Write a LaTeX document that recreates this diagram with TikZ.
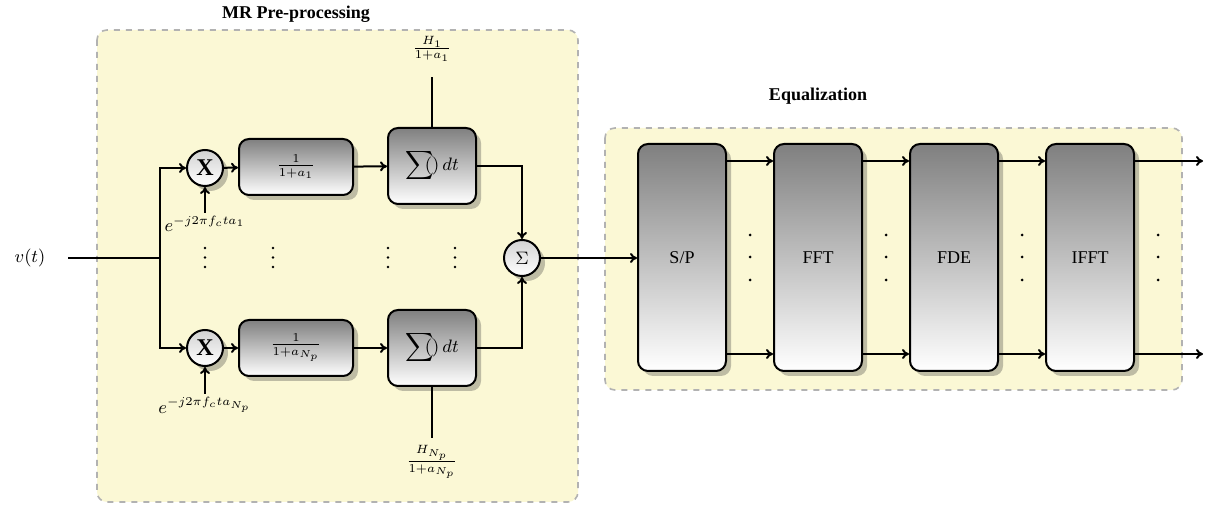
\documentclass[tikz,border=0pt]{standalone}
\usepackage{fontspec}
\setmainfont{Liberation Serif}
\usetikzlibrary{shadows,arrows.meta,calc}
\definecolor{bgy}{HTML}{FBF8D5}
\begin{document}
\begin{tikzpicture}[x=0.5pt,y=-0.5pt,font=\small,line width=1pt,
  grp/.style={draw=gray!60,dashed,line width=0.8pt,fill=bgy,rounded corners=5pt},
  shd/.style={drop shadow={opacity=0.3,fill=black!80,shadow xshift=2.5pt,shadow yshift=-2.5pt}},
  blk/.style={shd,draw=black,line width=1pt,rounded corners=5pt,top color=black!50,bottom color=white,inner sep=2pt},
  gainbox/.style={blk,minimum width=57pt,minimum height=28pt},
  intbox/.style={blk,minimum width=44pt,minimum height=38pt},
  eqbox/.style={blk,minimum width=44pt,minimum height=113.5pt},
  mult/.style={shd,circle,draw=black,line width=1pt,top color=gray!35,bottom color=white,minimum size=18pt,inner sep=0pt},
  ttl/.style={font=\small\bfseries},
  dot/.style={fill=black},
  >={To[length=3.5pt,width=5pt]}]
\useasboundingbox (0,0) rectangle (1205,507);
% groups
\draw[grp] (97,30) rectangle (578,502);
\draw[grp] (605,128) rectangle (1182,390);
\node[ttl] (t1) at (296,14) {MR Pre-processing};
\node[ttl] (t2) at (818,96) {Equalization};
% input
\node (vt) at (30,258) {$v(t)$};
\coordinate (vin) at (68,258);
\coordinate (split) at (160,258);
% branch nodes
\node[mult] (m1) at (205,168) {\large\textbf{X}};
\node[mult] (m2) at (205,348) {\large\textbf{X}};
\node[gainbox] (g1) at (296,167) {$\frac{1}{1+a_1}$};
\node[gainbox] (g2) at (296,348) {$\frac{1}{1+a_{N_p}}$};
\node[intbox] (i1) at (432,166) {$\displaystyle\sum\!\!\!()\,dt$};
\node[intbox] (i2) at (432,348) {$\displaystyle\sum\!\!\!()\,dt$};
\node (h1) at (432,49) {$\frac{H_1}{1+a_1}$};
\coordinate (h1c) at (432,77);
\node (h2) at (432,462) {$\frac{H_{N_p}}{1+a_{N_p}}$};
\coordinate (h2c) at (432,438);
\node[anchor=north,inner sep=1pt] (e1) at (205,213) {$e^{-j2\pi f_c t a_1}$};
\node[anchor=north,inner sep=1pt] (e2) at (205,394) {$e^{-j2\pi f_c t a_{N_p}}$};
\node[mult] (sum) at (522,258) {$\Sigma$};
% vertical dots
\foreach \x in {205,273,388,455}
  \foreach \y in {248,257.5,267}
    \fill[dot] (\x,\y) circle[radius=0.7pt];
% connections
\draw (vin) -- (split);
\draw[->] (split) |- (m1.west);
\draw[->] (split) |- (m2.west);
\draw[->] (m1) -- (g1);
\draw[->] (m2) -- (g2);
\draw[->] (g1) -- (i1);
\draw[->] (g2) -- (i2);
\draw[->] (i1.east) -| (sum.north);
\draw[->] (i2.east) -| (sum.south);
\draw (i1.north) -- (h1c);
\draw (i2.south) -- (h2c);
\draw[->] (e1.north) -- (m1.south);
\draw[->] (e2.north) -- (m2.south);
% equalization
\node[eqbox] (sp) at (682,257.5) {S/P};
\node[eqbox] (fft) at (818,257.5) {FFT};
\node[eqbox] (fde) at (954,257.5) {FDE};
\node[eqbox] (ifft) at (1090,257.5) {IFFT};
\draw[->] (sum.east) -- (sp.west |- sum.east);
\coordinate (top) at (0,161);
\coordinate (bot) at (0,354);
\coordinate (out1) at (1203,161);
\coordinate (out2) at (1203,354);
\foreach \a/\b in {sp/fft,fft/fde,fde/ifft}{
  \draw[->] (\a.east |- top) -- (\b.west |- top);
  \draw[->] (\a.east |- bot) -- (\b.west |- bot);
}
\draw[->] (ifft.east |- top) -- (out1);
\draw[->] (ifft.east |- bot) -- (out2);
\foreach \x in {750,886,1022,1158}
  \foreach \y in {235,257,280}
    \fill[dot] (\x,\y) circle[radius=0.75pt];
\end{tikzpicture}
\end{document}
